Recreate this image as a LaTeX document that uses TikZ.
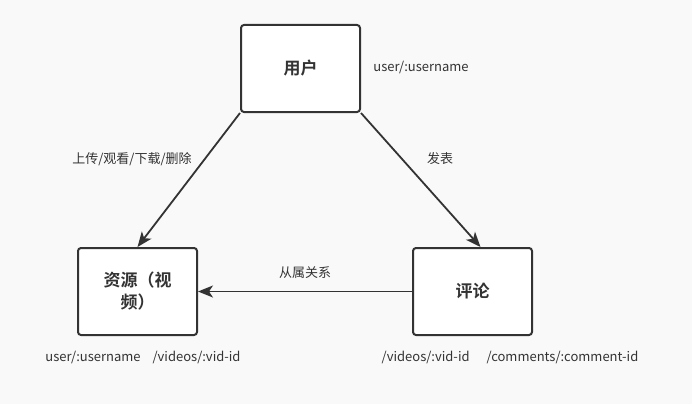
\documentclass[tikz,border=0pt]{standalone}
\usepackage{fontspec}
\setmainfont{Noto Sans CJK SC}[BoldFont={Noto Sans CJK SC Bold}]
\usetikzlibrary{arrows.meta,positioning}
\definecolor{ink}{HTML}{333333}
\definecolor{paper}{HTML}{F9F9F9}
\tikzset{
  entity/.style={draw=ink,line width=2pt,rounded corners=3pt,fill=white,
    minimum width=119pt,minimum height=87pt,align=center,text=ink,
    font=\fontsize{17}{22}\selectfont\bfseries},
  tag/.style={font=\fontsize{13}{15}\selectfont,text=ink,inner sep=0pt},
  link/.style={draw=ink,line width=1.8pt,-{Stealth[length=15pt,width=12pt,inset=4pt]}}
}
\begin{document}
\begin{tikzpicture}[x=1pt,y=-1pt]
    % background
    \fill[paper] (0,0) rectangle (692,404);
    \useasboundingbox (0,0) rectangle (692,404);

    % the three boxes
    \node[entity] (user) at (300.5,68.5) {用户};
    \node[entity] (resource) at (137.5,291.5) {资源（视\\频）};
    \node[entity] (comment) at (472.5,291.5) {评论};

    % user -> resource, user -> comment
    \draw[link] (user.south west) -- (resource.north);
    \draw[link] (user.south east) -- ([xshift=8pt]comment.north);
    % comment -> resource
    \draw[link] (comment.west) -- (resource.east);

    % edge labels
    \node[tag] (actLbl) at (132,159) {上传/观看/下载/删除};
    \node[tag] (postLbl) at (440,159) {发表};
    \node[tag] (ownLbl) at (305,273) {从属关系};

    % routes
    \node[tag] (userUrl) at (421,68) {user/:username};
    \node[tag] (resUrl) at (143,357) {user/:username\hspace{12pt}/videos/:vid-id};
    \node[tag] (comUrl) at (510,357) {/videos/:vid-id\hspace{17pt}/comments/:comment-id};
\end{tikzpicture}
\end{document}
